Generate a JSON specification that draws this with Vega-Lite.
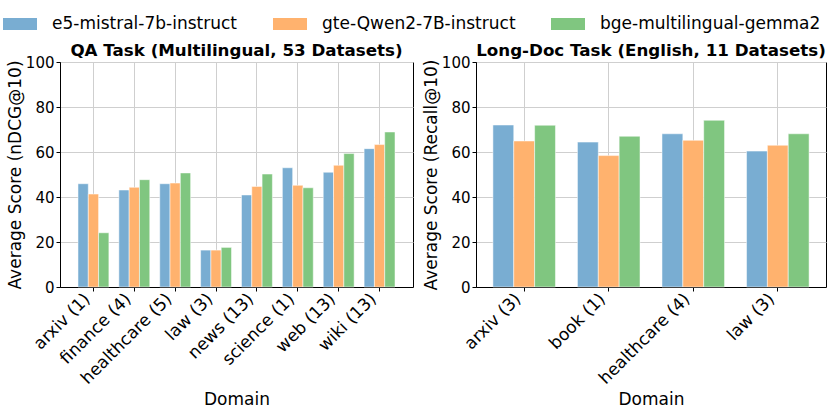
{
  "$schema": "https://vega.github.io/schema/vega-lite/v6.json",
  "padding": {"left": 3, "top": 7, "right": 5, "bottom": 5},
  "datasets": {
    "qa": [
      {"domain": "arxiv (1)", "model": "e5-mistral-7b-instruct", "score": 45.9},
      {"domain": "arxiv (1)", "model": "gte-Qwen2-7B-instruct", "score": 41.3},
      {"domain": "arxiv (1)", "model": "bge-multilingual-gemma2", "score": 24.1},
      {"domain": "finance (4)", "model": "e5-mistral-7b-instruct", "score": 43.1},
      {"domain": "finance (4)", "model": "gte-Qwen2-7B-instruct", "score": 44.3},
      {"domain": "finance (4)", "model": "bge-multilingual-gemma2", "score": 47.7},
      {"domain": "healthcare (5)", "model": "e5-mistral-7b-instruct", "score": 45.9},
      {"domain": "healthcare (5)", "model": "gte-Qwen2-7B-instruct", "score": 46.2},
      {"domain": "healthcare (5)", "model": "bge-multilingual-gemma2", "score": 50.7},
      {"domain": "law (3)", "model": "e5-mistral-7b-instruct", "score": 16.4},
      {"domain": "law (3)", "model": "gte-Qwen2-7B-instruct", "score": 16.4},
      {"domain": "law (3)", "model": "bge-multilingual-gemma2", "score": 17.6},
      {"domain": "news (13)", "model": "e5-mistral-7b-instruct", "score": 40.9},
      {"domain": "news (13)", "model": "gte-Qwen2-7B-instruct", "score": 44.7},
      {"domain": "news (13)", "model": "bge-multilingual-gemma2", "score": 50.2},
      {"domain": "science (1)", "model": "e5-mistral-7b-instruct", "score": 53.0},
      {"domain": "science (1)", "model": "gte-Qwen2-7B-instruct", "score": 45.2},
      {"domain": "science (1)", "model": "bge-multilingual-gemma2", "score": 44.1},
      {"domain": "web (13)", "model": "e5-mistral-7b-instruct", "score": 51.0},
      {"domain": "web (13)", "model": "gte-Qwen2-7B-instruct", "score": 54.1},
      {"domain": "web (13)", "model": "bge-multilingual-gemma2", "score": 59.3},
      {"domain": "wiki (13)", "model": "e5-mistral-7b-instruct", "score": 61.5},
      {"domain": "wiki (13)", "model": "gte-Qwen2-7B-instruct", "score": 63.3},
      {"domain": "wiki (13)", "model": "bge-multilingual-gemma2", "score": 68.9}
    ],
    "longdoc": [
      {"domain": "arxiv (3)", "model": "e5-mistral-7b-instruct", "score": 72.0},
      {"domain": "arxiv (3)", "model": "gte-Qwen2-7B-instruct", "score": 64.9},
      {"domain": "arxiv (3)", "model": "bge-multilingual-gemma2", "score": 71.9},
      {"domain": "book (1)", "model": "e5-mistral-7b-instruct", "score": 64.4},
      {"domain": "book (1)", "model": "gte-Qwen2-7B-instruct", "score": 58.4},
      {"domain": "book (1)", "model": "bge-multilingual-gemma2", "score": 67.0},
      {"domain": "healthcare (4)", "model": "e5-mistral-7b-instruct", "score": 68.1},
      {"domain": "healthcare (4)", "model": "gte-Qwen2-7B-instruct", "score": 65.2},
      {"domain": "healthcare (4)", "model": "bge-multilingual-gemma2", "score": 74.1},
      {"domain": "law (3)", "model": "e5-mistral-7b-instruct", "score": 60.4},
      {"domain": "law (3)", "model": "gte-Qwen2-7B-instruct", "score": 63.0},
      {"domain": "law (3)", "model": "bge-multilingual-gemma2", "score": 68.1}
    ]
  },
  "config": {
    "font": "DejaVu Sans",
    "view": {"stroke": "black", "strokeWidth": 1},
    "concat": {"spacing": 7},
    "axis": {
      "domainColor": "black",
      "tickColor": "black",
      "tickSize": 4,
      "labelColor": "black",
      "titleColor": "black",
      "labelFontSize": 15,
      "titleFontSize": 17,
      "titleFontWeight": "normal",
      "gridColor": "#cfcfcf",
      "gridWidth": 1
    },
    "title": {"fontSize": 16.7, "fontWeight": "bold", "color": "black", "offset": -5, "frame": "group"}
  },
  "resolve": {"scale": {"color": "shared", "xOffset": "independent"}},
  "hconcat": [
    {
      "data": {"name": "qa"},
      "title": "QA Task (Multilingual, 53 Datasets)",
      "width": 353,
      "height": 225,
      "mark": {"type": "bar", "stroke": "white", "strokeWidth": 0.5},
      "encoding": {
        "x": {
          "field": "domain", "type": "nominal", "sort": null,
          "scale": {"paddingInner": 0.244, "paddingOuter": 0.44},
          "axis": {"title": "Domain", "labelFontSize": 17, "labelAngle": -45, "labelAlign": "right", "labelBaseline": "middle", "labelPadding": 5, "labelOffset": -6, "grid": true, "bandPosition": 0.5, "titlePadding": 5}
        },
        "xOffset": {"field": "model", "type": "nominal", "sort": ["e5-mistral-7b-instruct", "gte-Qwen2-7B-instruct", "bge-multilingual-gemma2"]},
        "y": {
          "field": "score", "type": "quantitative",
          "scale": {"domain": [0, 100]},
          "axis": {"title": "Average Score (nDCG@10)", "values": [0, 20, 40, 60, 80, 100], "labelPadding": 2, "minExtent": 33, "maxExtent": 33, "titlePadding": 3}
        },
        "color": {
          "field": "model", "type": "nominal",
          "scale": {"domain": ["e5-mistral-7b-instruct", "gte-Qwen2-7B-instruct", "bge-multilingual-gemma2"], "range": ["#79add2", "#ffb26e", "#80c680"]},
          "legend": {
            "title": null, "orient": "none", "direction": "horizontal",
            "legendX": -57, "legendY": -55,
            "labelFontSize": 17, "labelColor": "black", "labelLimit": 0,
            "symbolType": "M-1,-0.35L1,-0.35L1,0.35L-1,0.35Z", "symbolSize": 1156,
            "symbolStrokeWidth": 0, "symbolOpacity": 1,
            "labelOffset": 15, "columnPadding": 35
          }
        }
      }
    },
    {
      "data": {"name": "longdoc"},
      "title": "Long-Doc Task (English, 11 Datasets)",
      "width": 350,
      "height": 225,
      "mark": {"type": "bar", "stroke": "white", "strokeWidth": 0.5},
      "encoding": {
        "x": {
          "field": "domain", "type": "nominal", "sort": null,
          "scale": {"paddingInner": 0.26, "paddingOuter": 0.2},
          "axis": {"title": "Domain", "labelFontSize": 17, "labelAngle": -45, "labelAlign": "right", "labelBaseline": "middle", "labelPadding": 5, "labelOffset": -6, "grid": true, "bandPosition": 0.5, "titlePadding": 5}
        },
        "xOffset": {"field": "model", "type": "nominal", "sort": ["e5-mistral-7b-instruct", "gte-Qwen2-7B-instruct", "bge-multilingual-gemma2"]},
        "y": {
          "field": "score", "type": "quantitative",
          "scale": {"domain": [0, 100]},
          "axis": {"title": "Average Score (Recall@10)", "values": [0, 20, 40, 60, 80, 100], "labelPadding": 2, "minExtent": 33, "maxExtent": 33, "titlePadding": 3}
        },
        "color": {
          "field": "model", "type": "nominal",
          "scale": {"domain": ["e5-mistral-7b-instruct", "gte-Qwen2-7B-instruct", "bge-multilingual-gemma2"], "range": ["#79add2", "#ffb26e", "#80c680"]}
        }
      }
    }
  ]
}
